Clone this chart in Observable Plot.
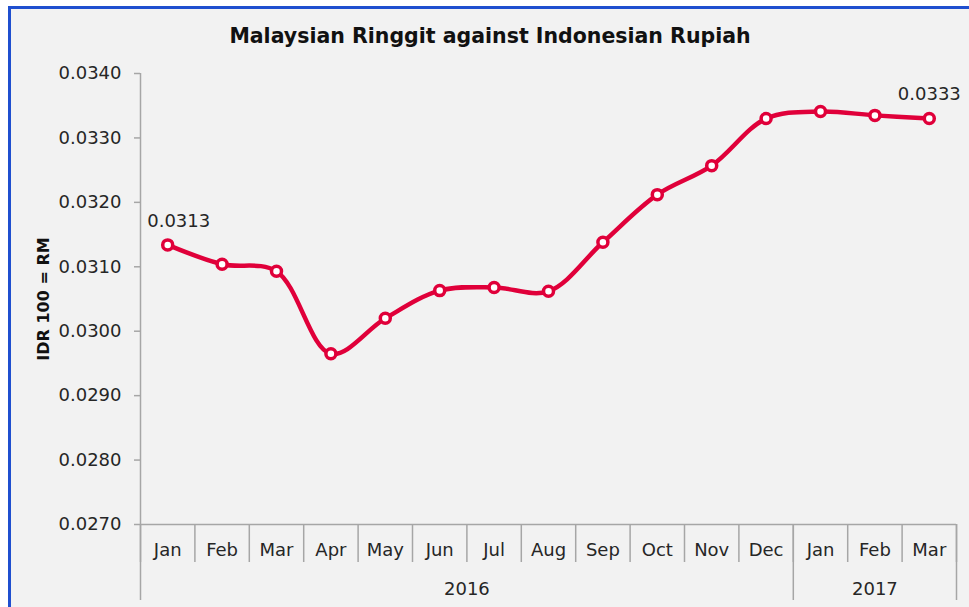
<!DOCTYPE html>
<html>
<head>
<meta charset="utf-8">
<script src="https://cdn.jsdelivr.net/npm/d3@7"></script>
<script src="https://cdn.jsdelivr.net/npm/@observablehq/plot@0.6"></script>
<style>
  html, body { margin: 0; padding: 0; background: #ffffff; overflow: hidden; }
  #wrap { position: relative; width: 969px; height: 607px; overflow: hidden; }
  #box { position: absolute; left: 8px; top: 6px; width: 1000px; height: 700px;
         background: #f2f2f2; border: 3px solid #1f4fcf; }
  #title { position: absolute; left: 0; top: 23px; width: 980px; text-align: center;
           font: bold 20.5px "DejaVu Sans", sans-serif; line-height: 26px; color: #111; }
  #chart { position: absolute; left: 0; top: 0; }
</style>
</head>
<body>
<div id="wrap">
  <div id="box"></div>
  <div id="title">Malaysian Ringgit against Indonesian Rupiah</div>
  <div id="chart"></div>
</div>
<script>
const months = ["Jan","Feb","Mar","Apr","May","Jun","Jul","Aug","Sep","Oct","Nov","Dec","Jan","Feb","Mar"];
const years = [2016,2016,2016,2016,2016,2016,2016,2016,2016,2016,2016,2016,2017,2017,2017];
const values = [0.03134,0.03104,0.03093,0.02965,0.03020,0.03063,0.03068,0.03062,0.03138,0.03212,0.03257,0.03330,0.03341,0.03335,0.03330];
const firstLabel = 0;
const lastLabel = 14;
const yTicks = [0.027,0.028,0.029,0.030,0.031,0.032,0.033,0.034];
const yLabel = "IDR 100 = RM";

const data = months.map((m, i) => ({i, pos: i + 0.5, month: m, year: years[i], value: values[i]}));
const yearGroups = d3.rollups(data, v => ({start: d3.min(v, d => d.i), end: d3.max(v, d => d.i) + 1}), d => d.year)
  .map(([year, r]) => ({year: String(year), ...r}));
const yearEdges = Array.from(new Set(yearGroups.flatMap(g => [g.start, g.end])));
const monthEdges = d3.range(months.length + 1);

const W = 969, H = 607, mt = 73, mb = 83, ml = 140, mr = 13;
const plotH = H - mt - mb;
const grey = "#a6a6a6";
const red = "#e0003a";
const ink = "#262626";
const font = "DejaVu Sans, sans-serif";

const chart = Plot.plot({
  width: W, height: H,
  marginTop: mt, marginBottom: mb, marginLeft: ml, marginRight: mr,
  style: {background: "transparent", fontFamily: font, fontSize: "18px", color: ink},
  x: {type: "linear", domain: [0, months.length], axis: null},
  y: {domain: [0.027, 0.034], axis: null},
  marks: [
    Plot.ruleY([0.027], {stroke: grey, strokeWidth: 1.5}),
    Plot.ruleX(monthEdges, {stroke: grey, strokeWidth: 1.5, insetTop: plotH, insetBottom: -38}),
    Plot.ruleX(yearEdges, {stroke: grey, strokeWidth: 1.5, insetTop: plotH, insetBottom: -76}),
    Plot.ruleX([0], {stroke: grey, strokeWidth: 1.5}),
    Plot.axisY({ticks: yTicks, tickFormat: d3.format(".4f"), tickSize: 6, tickPadding: 13,
                stroke: grey, strokeWidth: 1.5, fill: ink, fontSize: 18, label: null}),
    Plot.text([yLabel], {frameAnchor: "left", textAnchor: "middle", rotate: -90, dx: -97,
                fontWeight: "bold", fontSize: 16, fill: "#111"}),
    Plot.text(data, {x: "pos", text: "month", frameAnchor: "bottom", dy: 31, fontSize: 18, fill: ink}),
    Plot.text(yearGroups, {x: d => (d.start + d.end) / 2, text: "year", frameAnchor: "bottom", dy: 70, fontSize: 18, fill: ink}),
    Plot.line(data, {x: "pos", y: "value", curve: "catmull-rom", stroke: red, strokeWidth: 4.5}),
    Plot.dot(data, {x: "pos", y: "value", r: 5, fill: "white", stroke: red, strokeWidth: 3.5}),
    Plot.text([data[firstLabel]], {x: "pos", y: "value", text: d => d.value.toFixed(4),
      dy: -24, dx: 11, fontSize: 18, fill: ink}),
    Plot.text([data[lastLabel]], {x: "pos", y: "value", text: d => d.value.toFixed(4),
      dy: -24, dx: 0, fontSize: 18, fill: ink})
  ]
});
document.getElementById("chart").appendChild(chart);
</script>
</body>
</html>
